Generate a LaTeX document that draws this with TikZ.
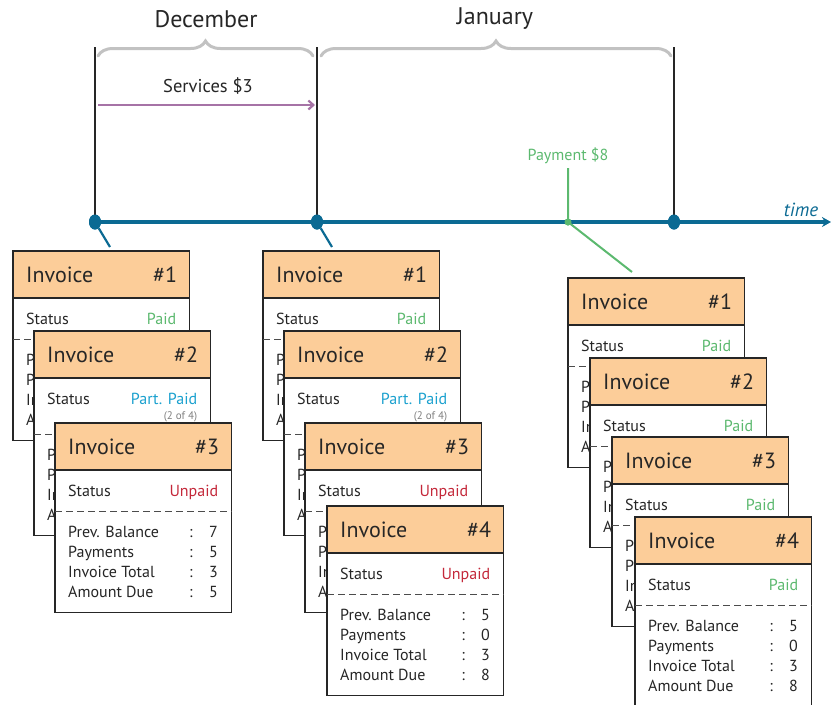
\documentclass[tikz,border=0pt]{standalone}
\usepackage{fontspec}
\setmainfont{PT Sans}
\usetikzlibrary{calc,arrows.meta,decorations.pathreplacing,shapes.geometric}

\definecolor{headorange}{HTML}{FCCD99}
\definecolor{paidgreen}{HTML}{5CB96F}
\definecolor{partblue}{HTML}{1BA1CF}
\definecolor{unpaidred}{HTML}{C4283A}
\definecolor{timeblue}{HTML}{0B6A93}
\definecolor{servpurple}{HTML}{A673A6}
\definecolor{bracegray}{HTML}{C2C2C2}

\tikzset{
  card/.style={rectangle, fill=white, inner sep=0pt, minimum width=176, anchor=north west},
  cardline/.style={draw=black!85, line width=1.2pt},
  sepline/.style={draw=black!70, line width=0.9pt, dash pattern=on 7pt off 4pt},
  headtext/.style={inner sep=0pt, text=black!85, font=\fontsize{22}{25}\selectfont},
  bodytext/.style={inner sep=0pt, text=black!85, font=\fontsize{16}{18}\selectfont},
  notetext/.style={inner sep=0pt, text=black!50, font=\fontsize{11}{12}\selectfont},
  tdot/.style={ellipse, fill=timeblue, inner sep=0pt, minimum width=12, minimum height=15},
  vline/.style={draw=black!85, line width=2pt},
  tlink/.style={draw=timeblue, line width=2.2pt},
  mbrace/.style={draw=bracegray, line width=3pt, line cap=round,
    decorate, decoration={brace, amplitude=15pt}},
}

% #1 name, #2 top left, #3 number, #4 status, #5 status colour,
% #6 note, #7 extra height, #8 values (empty when hidden)
\newcommand{\invoicecard}[8]{%
  \node[card, minimum height={189+#7}] (#1) at (#2) {};
  \fill[headorange] (#1.north west) rectangle ($(#1.north east)+(0,47)$);
  \draw[cardline] ($(#1.north west)+(0,47)$) -- ($(#1.north east)+(0,47)$);
  \draw[cardline] (#1.north west) rectangle (#1.south east);
  \node[headtext, anchor=base west] (#1-title) at ($(#1.north west)+(13,31)$) {Invoice};
  \node[headtext, anchor=base east] (#1-num) at ($(#1.north east)+(-12,31)$) {\##3};
  \node[bodytext, anchor=base west] (#1-stlab) at ($(#1.north west)+(13,73)$) {Status};
  \node[bodytext, anchor=base east, text=#5] (#1-st) at ($(#1.north east)+(-13,73)$) {#4};
  \def\cardnote{#6}%
  \ifx\cardnote\empty\else
    \node[notetext, anchor=base east] (#1-note) at ($(#1.north east)+(-13,88)$) {#6};
  \fi
  \draw[sepline] ($(#1.north west)+(0,88+#7)$) -- ($(#1.north east)+(0,88+#7)$);
  \foreach \lab [count=\i from 0] in {Prev. Balance,Payments,Invoice Total,Amount Due}
    \node[bodytext, anchor=base west] (#1-lab\i) at ($(#1.north west)+(13,114+#7+20*\i)$) {\lab};
  \def\cardvals{#8}%
  \ifx\cardvals\empty\else
    \foreach \val [count=\i from 0] in {#8}{
      \node[bodytext, anchor=base] (#1-col\i) at ($(#1.north west)+(136,114+#7+20*\i)$) {:};
      \node[bodytext, anchor=base east] (#1-val\i) at ($(#1.north west)+(163,114+#7+20*\i)$) {\val};
    }
  \fi
}

\begin{document}
\begin{tikzpicture}[x=1pt, y=-1pt]
  \useasboundingbox (0,0) rectangle (831,705);

  % December invoices
  \invoicecard{L1}{13,251}{1}{Paid}{paidgreen}{}{0}{}
  \invoicecard{L2}{34,331}{2}{Part. Paid}{partblue}{(2 of 4)}{15}{}
  \invoicecard{L3}{55,423}{3}{Unpaid}{unpaidred}{}{0}{7,5,3,5}

  % January invoices
  \invoicecard{M1}{263,251}{1}{Paid}{paidgreen}{}{0}{}
  \invoicecard{M2}{284,331}{2}{Part. Paid}{partblue}{(2 of 4)}{15}{}
  \invoicecard{M3}{305,423}{3}{Unpaid}{unpaidred}{}{0}{}
  \invoicecard{M4}{327,506}{4}{Unpaid}{unpaidred}{}{0}{5,0,3,8}

  % after payment
  \invoicecard{R1}{568,278}{1}{Paid}{paidgreen}{}{0}{}
  \invoicecard{R2}{590,358}{2}{Paid}{paidgreen}{}{0}{}
  \invoicecard{R3}{612,437}{3}{Paid}{paidgreen}{}{0}{}
  \invoicecard{R4}{635,517}{4}{Paid}{paidgreen}{}{0}{5,0,3,8}

  % months
  \node[font=\fontsize{24}{28}\selectfont, text=black!85] (dec) at (206,19) {December};
  \node[font=\fontsize{24}{28}\selectfont, text=black!85] (jan) at (495,19) {January};
  \coordinate (b1s) at (98,56);
  \coordinate (b1e) at (313,56);
  \coordinate (b2s) at (321,56);
  \coordinate (b2e) at (671,56);
  \draw[mbrace] (b1s) -- (b1e);
  \draw[mbrace] (b2s) -- (b2e);

  % timeline
  \node[tdot] (d1) at (95,222) {};
  \node[tdot] (d2) at (317,222) {};
  \node[tdot] (d3) at (674,222) {};
  \node[circle, fill=paidgreen, inner sep=0pt, minimum size=7] (pdot) at (568,222) {};
  \coordinate (t1) at (95,47);
  \coordinate (t2) at (317,47);
  \coordinate (t3) at (674,47);
  \coordinate (tend) at (831,222);
  \draw[vline] (t1) -- (d1.center);
  \draw[vline] (t2) -- (d2.center);
  \draw[vline] (t3) -- (d3.center);
  \draw[draw=timeblue, line width=3.5pt, -{Stealth[length=9pt, width=10pt]}] (d1.center) -- (tend);
  \node[tdot] at (d1) {};
  \node[tdot] at (d2) {};
  \node[tdot] at (d3) {};
  \node[font=\fontsize{19}{22}\selectfont\itshape, text=timeblue, anchor=base] (timelab) at (801,216) {time};

  % services
  \node[font=\fontsize{18.5}{22}\selectfont, text=black!85] (serv) at (208,86) {Services \$3};
  \coordinate (s1) at (98,105);
  \coordinate (s2) at (315,105);
  \draw[draw=servpurple, line width=2.2pt, -{Straight Barb[length=5pt, width=9pt]}] (s1) -- (s2);

  % payment
  \node[font=\fontsize{16}{19}\selectfont, text=paidgreen] (paylab) at (568,156) {Payment \$8};
  \coordinate (ptop) at (568,168);
  \coordinate (r1hook) at ($(R1.north west)+(64,-6)$);
  \draw[draw=paidgreen, line width=2pt] (ptop) -- (pdot.center) -- (r1hook);
  \node[circle, fill=paidgreen, inner sep=0pt, minimum size=7] at (pdot) {};

  % links to the invoices
  \coordinate (l1hook) at ($(L1.north west)+(97,-4)$);
  \coordinate (m1hook) at ($(M1.north west)+(69,-4)$);
  \draw[tlink] (d1) -- (l1hook);
  \draw[tlink] (d2) -- (m1hook);
\end{tikzpicture}
\end{document}
